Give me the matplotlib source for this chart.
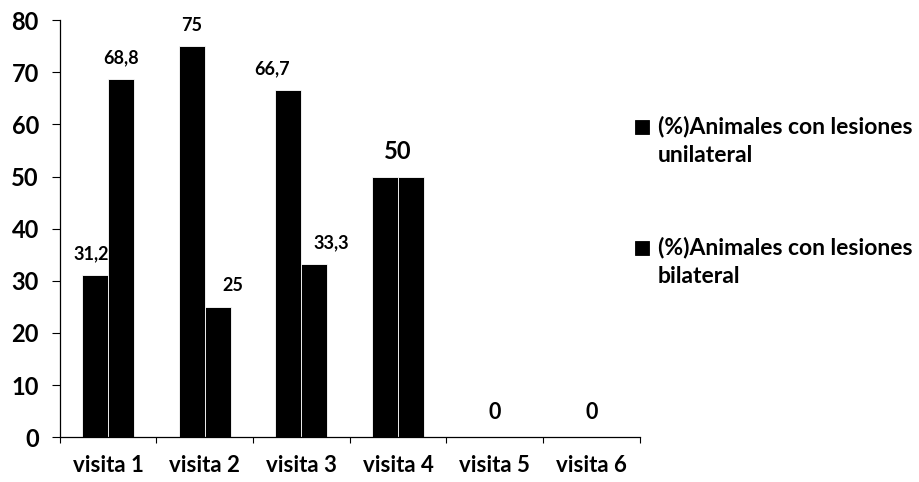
import matplotlib.pyplot as plt
import numpy as np

visitas = ["visita 1", "visita 2", "visita 3", "visita 4", "visita 5", "visita 6"]
unilateral = [31.2, 75, 66.7, 50, 0, 0]
bilateral = [68.8, 25, 33.3, 50, 0, 0]
uni_txt = ["31,2", "75", "66,7", "", "", ""]
bi_txt = ["68,8", "25", "33,3", "", "", ""]
cat_txt = ["", "", "", "50", "0", "0"]

plt.rcParams['font.family'] = ['Lato', 'DejaVu Sans']
plt.rcParams['font.weight'] = 'bold'

fig = plt.figure(figsize=(9.19, 4.82), dpi=100)
ax = fig.add_axes([0.065, 0.093, 0.631, 0.865])

x = np.arange(len(visitas))
w = 0.27
b1 = ax.bar(x - w / 2, unilateral, w, color="black", edgecolor="white", linewidth=0.6,
            label="(%)Animales con lesiones\nunilateral")
b2 = ax.bar(x + w / 2, bilateral, w, color="black", edgecolor="white", linewidth=0.6,
            label="(%)Animales con lesiones\nbilateral")

# value labels, nudged sideways like in the original
uni_dx = [-3, 0, -12, 0, 0, 0]
bi_dx = [0, 11, 12, 0, 0, 0]
for i in range(len(visitas)):
    if uni_txt[i]:
        ax.annotate(uni_txt[i], (x[i] - w / 2, unilateral[i]), xytext=(uni_dx[i], 9),
                    textcoords="offset points", ha="center", va="bottom", fontsize=13, fontweight="bold")
    if bi_txt[i]:
        ax.annotate(bi_txt[i], (x[i] + w / 2, bilateral[i]), xytext=(bi_dx[i], 9),
                    textcoords="offset points", ha="center", va="bottom", fontsize=13, fontweight="bold")
    if cat_txt[i]:
        fs = 17 if cat_txt[i] == "50" else 15.5
        ax.annotate(cat_txt[i], (x[i], max(unilateral[i], bilateral[i])), xytext=(0, 10),
                    textcoords="offset points", ha="center", va="bottom", fontsize=fs, fontweight="bold")

ax.set_xlim(-0.5, len(visitas) - 0.5)
ax.set_ylim(0, 80)
ax.set_yticks(range(0, 81, 10))
ax.set_xticks(x)
ax.set_xticklabels(visitas)
ax.set_xticks(np.arange(-0.5, len(visitas), 1), minor=True)
ax.tick_params(axis="x", which="major", length=0, pad=13, labelsize=16)
ax.tick_params(axis="x", which="minor", length=4, width=0.8)
ax.tick_params(axis="y", length=6, width=0.8, labelsize=17, pad=9)
for s in ["top", "right"]:
    ax.spines[s].set_visible(False)
for s in ["left", "bottom"]:
    ax.spines[s].set_linewidth(0.9)

leg = fig.legend(handles=[b1, b2], loc="upper left", bbox_to_anchor=(0.691, 0.76),
                 frameon=False, fontsize=16.5, handlelength=0.6, handleheight=0.55,
                 handletextpad=0.4, labelspacing=3.1, borderpad=0, borderaxespad=0)
for t in leg.get_texts():
    t.set_linespacing(1.45)
# put the square next to the first line of each label
for p in leg.get_patches():
    p.set_y(p.get_y() + 10.5)
    p.set_edgecolor("black")

fig.savefig("out.png", dpi=100)
